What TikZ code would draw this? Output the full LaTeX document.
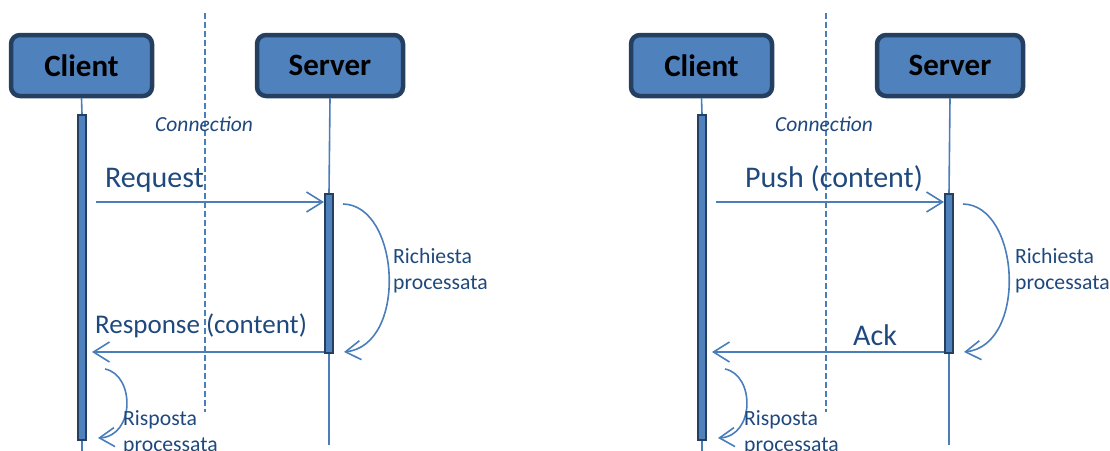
\documentclass[tikz,border=0pt]{standalone}
\usepackage{fontspec}
\setmainfont{Carlito}
\usetikzlibrary{arrows.meta}
\definecolor{boxfill}{HTML}{4F81BD}
\definecolor{boxline}{HTML}{243F60}
\definecolor{wire}{HTML}{4A7EBB}
\definecolor{ink}{HTML}{1F497D}
\tikzset{
  actor/.style={draw=boxline, fill=boxfill, line width=4.5pt, rounded corners=9pt,
    minimum width=141pt, minimum height=61pt, inner sep=0pt,
    font=\fontsize{31}{36}\selectfont\bfseries},
  actbar/.style={draw=boxline, fill=boxfill, line width=2pt, minimum width=8pt, inner sep=0pt},
  lifeline/.style={draw=wire, line width=1.6pt},
  divider/.style={draw=wire, line width=1.8pt, dash pattern=on 6pt off 3pt},
  msg/.style={draw=wire, line width=1.6pt, -{Straight Barb[length=16pt,width=20pt]}},
  loopy/.style={draw=wire, line width=1.6pt, -{Straight Barb[length=15pt,width=19pt]}},
  biglbl/.style={text=ink, inner sep=0pt, anchor=base west, font=\fontsize{30}{34}\selectfont},
  smalllbl/.style={text=ink, inner sep=0pt, anchor=base west, font=\fontsize{21.7}{25}\selectfont},
  connlbl/.style={text=ink, inner sep=0pt, anchor=base west, font=\fontsize{21.5}{24}\selectfont\itshape},
}
\begin{document}
\begin{tikzpicture}[x=1pt,y=-1pt]
  \useasboundingbox (0,0) rectangle (1110,450);

  % pull: request / response
  \begin{scope}
    \coordinate (cn1top) at (205,13);
    \coordinate (cn1bot) at (205,412);
    \draw[divider] (cn1top) -- (cn1bot);
    \node[connlbl] (cn1) at (155,131) {Connection};

    \node[actor] (cl1) at (81.5,65.5) {Client};
    \node[actor, minimum width=146pt] (sv1) at (330,65.5) {Server};
    \node[actbar, minimum height=325pt] (clbar1) at (82,277.5) {};
    \node[actbar, minimum height=159pt] (svbar1) at (329,273.5) {};
    \coordinate (clend1) at (82,452);
    \coordinate (svend1) at (329,445);
    \draw[lifeline] (cl1.south) -- (clbar1.north);
    \draw[lifeline] (clbar1.south) -- (clend1);
    \draw[lifeline] (sv1.south) -- (svbar1.north);
    \draw[lifeline] (svbar1.south) -- (svend1);

    \coordinate (req1) at (96,202);
    \draw[msg] (req1) -- (req1 -| svbar1.west);
    \node[biglbl] (reqlbl1) at (105,187) {Request};

    \coordinate (rsp1) at (92,352);
    \draw[msg] (rsp1 -| svbar1.west) -- (rsp1);
    \node[biglbl, font=\fontsize{27}{32}\selectfont] (rsplbl1) at (95,333) {Response (content)};

    \coordinate (sva1) at (343,204);
    \coordinate (svb1) at (344,352);
    \draw[loopy] (sva1) .. controls (400,205) and (408,345) .. (svb1);
    \node[smalllbl] (svtxt1) at (393,263) {Richiesta};
    \node[smalllbl] (svtxu1) at (393,289) {processata};

    \coordinate (cla1) at (105,369);
    \coordinate (clb1) at (98,438);
    \draw[loopy] (cla1) .. controls (135,375) and (135,436) .. (clb1);
    \node[smalllbl] (cltxt1) at (123,425) {Risposta};
    \node[smalllbl] (cltxu1) at (123,451) {processata};
  \end{scope}

  % push: content / ack
  \begin{scope}[xshift=620pt]
    \coordinate (cn2top) at (206,13);
    \coordinate (cn2bot) at (206,412);
    \draw[divider] (cn2top) -- (cn2bot);
    \node[connlbl] (cn2) at (155,131) {Connection};

    \node[actor] (cl2) at (81.5,65.5) {Client};
    \node[actor, minimum width=146pt] (sv2) at (330,65.5) {Server};
    \node[actbar, minimum height=325pt] (clbar2) at (82,277.5) {};
    \node[actbar, minimum height=159pt] (svbar2) at (329,273.5) {};
    \coordinate (clend2) at (82,452);
    \coordinate (svend2) at (329,445);
    \draw[lifeline] (cl2.south) -- (clbar2.north);
    \draw[lifeline] (clbar2.south) -- (clend2);
    \draw[lifeline] (sv2.south) -- (svbar2.north);
    \draw[lifeline] (svbar2.south) -- (svend2);

    \coordinate (req2) at (96,202);
    \draw[msg] (req2) -- (req2 -| svbar2.west);
    \node[biglbl] (reqlbl2) at (125,187) {Push (content)};

    \coordinate (rsp2) at (92,352);
    \draw[msg] (rsp2 -| svbar2.west) -- (rsp2);
    \node[biglbl] (rsplbl2) at (233,345) {Ack};

    \coordinate (sva2) at (343,204);
    \coordinate (svb2) at (344,352);
    \draw[loopy] (sva2) .. controls (400,205) and (408,345) .. (svb2);
    \node[smalllbl] (svtxt2) at (395,263) {Richiesta};
    \node[smalllbl] (svtxu2) at (395,289) {processata};

    \coordinate (cla2) at (105,369);
    \coordinate (clb2) at (98,438);
    \draw[loopy] (cla2) .. controls (135,375) and (135,436) .. (clb2);
    \node[smalllbl] (cltxt2) at (124,425) {Risposta};
    \node[smalllbl] (cltxu2) at (124,451) {processata};
  \end{scope}
\end{tikzpicture}
\end{document}
